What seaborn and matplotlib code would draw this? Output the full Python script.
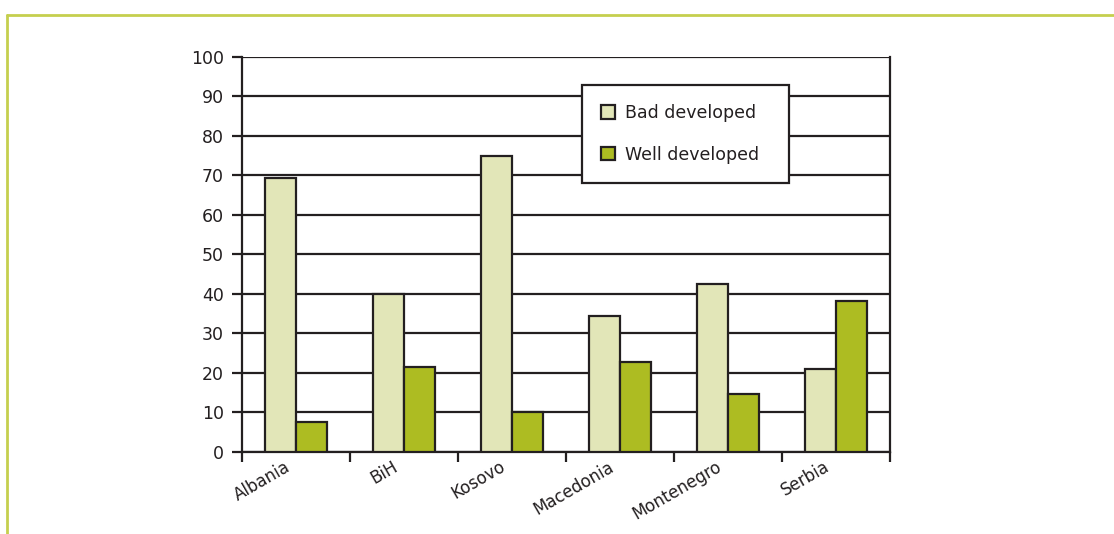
import numpy as np
import pandas as pd
import seaborn as sns
import matplotlib
matplotlib.use("Agg")
import matplotlib.pyplot as plt
from matplotlib.lines import Line2D
from matplotlib.transforms import ScaledTranslation

sns.set_theme(style="white")
plt.rcParams["font.family"] = ["DejaVu Sans"]

countries = ["Albania", "BiH", "Kosovo", "Macedonia", "Montenegro", "Serbia"]
bad_developed = [69.4, 40, 75, 34.3, 42.5, 21]
well_developed = [7.6, 21.5, 10, 22.7, 14.7, 38.3]
series_names = ["Bad developed", "Well developed"]
y_ticks = [0, 10, 20, 30, 40, 50, 60, 70, 80, 90, 100]

# long format for seaborn
df = pd.DataFrame({
    "country": countries * 2,
    "value": bad_developed + well_developed,
    "series": [series_names[0]] * len(countries) + [series_names[1]] * len(countries),
})

ink = "#231f20"
palette = {"Bad developed": "#e2e6b8", "Well developed": "#adbc22"}

fig = plt.figure(figsize=(11.14, 5.34), dpi=100)
ax = fig.add_axes([0.2172, 0.1536, 0.5817, 0.7397])

sns.barplot(data=df, x="country", y="value", hue="series", palette=palette,
            saturation=1, width=0.575, edgecolor=ink, linewidth=1.6, ax=ax,
            zorder=3, legend=True)

ax.set_ylim(0, 100)
ax.set_xlim(-0.5, len(countries) - 0.5)
ax.set_yticks(y_ticks)
ax.set_yticklabels([str(t) for t in y_ticks], fontsize=12.5, color=ink)
ax.yaxis.grid(True, color=ink, linewidth=1.6)
ax.set_axisbelow(True)
ax.set_xlabel("")
ax.set_ylabel("")

# category labels at centres, tick marks at the boundaries
ax.set_xticks(range(len(countries)))
ax.set_xticklabels(countries, rotation=30, ha="right", rotation_mode="anchor",
                   fontsize=12, color=ink)
ax.set_xticks(np.arange(-0.5, len(countries)), minor=True)
ax.tick_params(axis="x", which="major", length=0, pad=4)
ax.tick_params(axis="x", which="minor", length=7, width=1.6, color=ink, bottom=True)
ax.tick_params(axis="y", which="major", length=7, width=1.6, color=ink, left=True, pad=6)
shift = ScaledTranslation(-12 / 100, 0, fig.dpi_scale_trans)
for lbl in ax.get_xticklabels():
    lbl.set_transform(lbl.get_transform() + shift)

for side in ["left", "bottom", "right"]:
    ax.spines[side].set_visible(True)
    ax.spines[side].set_color(ink)
    ax.spines[side].set_linewidth(1.6)
ax.spines["top"].set_visible(False)

leg = ax.legend(loc="upper left", bbox_to_anchor=(0.5247, 0.929, 0.3194, 0.0),
                mode="expand", fontsize=12.5,
                frameon=True, fancybox=False, edgecolor=ink, framealpha=1,
                handlelength=0.8, handleheight=0.8, labelspacing=1.35,
                borderpad=1.1, handletextpad=0.6, borderaxespad=0)
leg.get_frame().set_linewidth(1.6)
for t in leg.get_texts():
    t.set_color(ink)

# olive frame lines around the figure
frame_color = "#c5cf4e"
fig.add_artist(Line2D([0.0063, 1.0], [0.972, 0.972], transform=fig.transFigure,
                      color=frame_color, linewidth=2))
fig.add_artist(Line2D([0.0063, 0.0063], [0.0, 0.972], transform=fig.transFigure,
                      color=frame_color, linewidth=2))

fig.savefig("out.png", dpi=100)
